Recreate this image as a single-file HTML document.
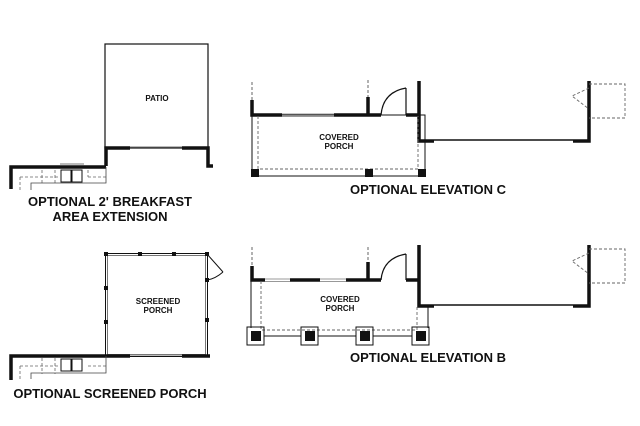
<!DOCTYPE html>
<html><head><style>
html,body{margin:0;padding:0;background:#fff;}
svg{display:block;}
text{font-family:"Liberation Sans",sans-serif;font-weight:bold;fill:#111;}
</style></head><body>
<svg width="640" height="426" viewBox="0 0 640 426" xmlns="http://www.w3.org/2000/svg">
<g fill="none" stroke="#111">
<!-- ===== Breakfast extension ===== -->
<rect x="105" y="44" width="103" height="104" stroke-width="1.2"/>
<path d="M106 166 V148 H130 M182 148 H208 V166 H213" stroke-width="3.5"/>
<path d="M130 147 H182" stroke-width="1" stroke="#777"/>
<path d="M11 189 V167 H106" stroke-width="3.5"/>
<path d="M60 164 H84" stroke-width="1" stroke="#777"/>
<path d="M20 177 H58 M88 177 H106 M20 177 V190 M42 170 V185 M55 170 V185 M88 170 V177" stroke-width="0.8" stroke-dasharray="3,2" stroke="#666"/>
<path d="M31 190 V183 H106 V167" stroke-width="0.8" stroke="#444"/>
<rect x="61" y="170" width="10" height="12" stroke-width="1"/>
<rect x="72" y="170" width="10" height="12" stroke-width="1"/>
<!-- ===== Screened porch ===== -->
<rect x="105.5" y="253.5" width="102" height="103" stroke-width="1"/>
<rect x="107.5" y="255.5" width="98" height="99" stroke-width="0.8" stroke="#555"/>
<g fill="#111" stroke="none">
<rect x="104" y="252" width="4" height="4"/><rect x="138" y="252" width="4" height="4"/><rect x="172" y="252" width="4" height="4"/><rect x="205" y="252" width="4" height="4"/>
<rect x="104" y="286" width="4" height="4"/><rect x="104" y="320" width="4" height="4"/><rect x="205" y="278" width="4" height="4"/><rect x="205" y="318" width="4" height="4"/>
</g>
<path d="M11 380 V356 H130 M182 356 H210" stroke-width="3.5"/>
<path d="M130 355 H182" stroke-width="1" stroke="#777"/>
<path d="M207 254 L223 272 M223 272 Q215 279 207 280" stroke-width="1"/>
<path d="M20 366 H58 M88 366 H106 M20 366 V379 M42 358 V374 M55 358 V374" stroke-width="0.8" stroke-dasharray="3,2" stroke="#666"/>
<path d="M31 379 V373 H106 V356" stroke-width="0.8" stroke="#444"/>
<rect x="61" y="359" width="10" height="12" stroke-width="1"/>
<rect x="72" y="359" width="10" height="12" stroke-width="1"/>
<!-- ===== Elevation C ===== -->
<path d="M252 82 V100 M368 80 V97" stroke-width="1" stroke-dasharray="3,2" stroke="#666"/>
<path d="M252 100 V115 H282 M334 115 H381 M406 115 H418 M368 97 V115" stroke-width="3.5"/>
<path d="M282 114 H334 M282 116.5 H334" stroke-width="0.8" stroke="#777"/>
<path d="M406 115 V88 M381 115 Q383 92 406 88" stroke-width="1.2"/>
<path d="M419 81 V141 H434 M573 141 H589 V81" stroke-width="3.5"/>
<path d="M434 140 H573" stroke-width="1.5"/>
<path d="M589 84 H625 V118 H589 M589 88 L572 96 L589 109" stroke-width="0.9" stroke-dasharray="3,2" stroke="#666"/>
<rect x="252" y="115" width="173" height="61" stroke-width="1"/>
<path d="M258 116 V169 H418 V116" stroke-width="0.9" stroke-dasharray="3,2" stroke="#666"/>
<g fill="#111" stroke="none"><rect x="251" y="169" width="8" height="8"/><rect x="365" y="169" width="8" height="8"/><rect x="418" y="169" width="8" height="8"/></g>
<!-- ===== Elevation B ===== -->
<path d="M252 247 V266 M368 247 V262" stroke-width="1" stroke-dasharray="3,2" stroke="#666"/>
<path d="M252 266 V280 H265 M290 280 H320 M346 280 H381 M406 280 H418 M368 262 V280" stroke-width="3.5"/>
<path d="M265 279 H290 M320 279 H346 M265 281.5 H290 M320 281.5 H346" stroke-width="0.8" stroke="#777"/>
<path d="M406 280 V254 M381 280 Q383 258 406 254" stroke-width="1.2"/>
<path d="M419 245 V306 H434 M573 306 H589 V245" stroke-width="3.5"/>
<path d="M434 305 H573" stroke-width="1.5"/>
<path d="M589 249 H625 V283 H589 M589 253 L572 261 L589 274" stroke-width="0.9" stroke-dasharray="3,2" stroke="#666"/>
<path d="M251 280 V328 M428 306 V328" stroke-width="1"/>
<path d="M261 281 V330 H417 V307" stroke-width="0.9" stroke-dasharray="3,2" stroke="#666"/>
<path d="M264 336 H301 M318 336 H356 M373 336 H412" stroke-width="1"/>
<g stroke-width="1"><rect x="247" y="327" width="17" height="18"/><rect x="301" y="327" width="17" height="18"/><rect x="356" y="327" width="17" height="18"/><rect x="412" y="327" width="17" height="18"/></g>
<g fill="#111" stroke="none"><rect x="251" y="331" width="10" height="10"/><rect x="305" y="331" width="10" height="10"/><rect x="360" y="331" width="10" height="10"/><rect x="416" y="331" width="10" height="10"/></g>
</g>
<text x="157" y="101" font-size="8" text-anchor="middle">PATIO</text>
<text x="110" y="206" font-size="13" text-anchor="middle">OPTIONAL 2' BREAKFAST</text>
<text x="110" y="221" font-size="13" text-anchor="middle">AREA EXTENSION</text>
<text x="158" y="304" font-size="8" text-anchor="middle">SCREENED</text>
<text x="158" y="313" font-size="8" text-anchor="middle">PORCH</text>
<text x="110" y="398" font-size="13" text-anchor="middle">OPTIONAL SCREENED PORCH</text>
<text x="339" y="140" font-size="8" text-anchor="middle">COVERED</text>
<text x="339" y="149" font-size="8" text-anchor="middle">PORCH</text>
<text x="428" y="194" font-size="13" text-anchor="middle">OPTIONAL ELEVATION C</text>
<text x="340" y="302" font-size="8" text-anchor="middle">COVERED</text>
<text x="340" y="311" font-size="8" text-anchor="middle">PORCH</text>
<text x="428" y="362" font-size="13" text-anchor="middle">OPTIONAL ELEVATION B</text>
</svg>
</body></html>
